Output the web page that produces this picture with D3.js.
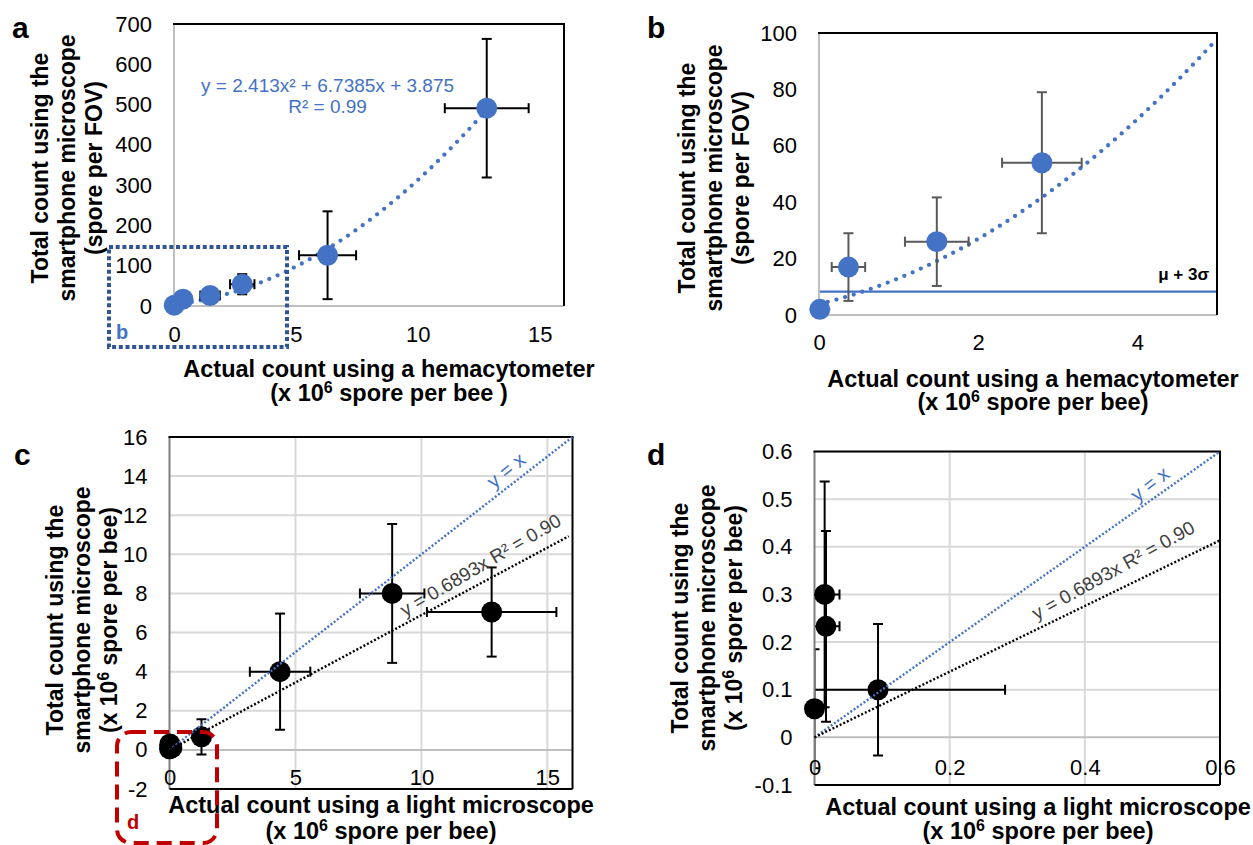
<!DOCTYPE html>
<html>
<head>
<meta charset="utf-8">
<script src="https://cdn.jsdelivr.net/npm/d3@7.9.0/dist/d3.min.js"></script>
<style>
  body { margin: 0; background: #fff; }
  svg { display: block; font-family: "Liberation Sans", Arial, sans-serif; }
</style>
</head>
<body>
<svg id="chart" width="1253" height="845"></svg>
<script>
// ---- data ----
// panels a & b : hemacytometer vs smartphone (spore per FOV)
const hemoX    = [0.01, 0.37, 1.48, 2.8, 6.3, 12.83];
const hemoXErr = [0, 0.21, 0.4, 0.5, 1.17, 1.72];
const fovY     = [2, 17, 26, 54, 126, 491];
const fovYErr  = [0, 12, 15.7, 25, 109, 172];
const quadFit  = [2.413, 6.7385, 3.875];   // y = a x^2 + b x + c
const muPlus3Sigma = 8.3;

// panels c & d : light microscope vs smartphone (x 10^6 spore per bee)
const lightX    = [0.0, 0.015, 0.017, 0.094, 1.27, 4.39, 8.84, 12.79];
const lightXErr = [0, 0.022, 0.02, 0.188, 0.3, 1.2, 1.28, 2.57];
const phoneY    = [0.06, 0.3, 0.233, 0.1, 0.67, 4.0, 8.0, 7.05];
const phoneYErr = [0.125, 0.237, 0.2, 0.138, 0.9, 2.97, 3.55, 2.28];
const linSlope  = 0.6893;

const aXTicks = [0, 5, 10, 15];
const aYTicks = [0, 100, 200, 300, 400, 500, 600, 700];
const bXTicks = [0, 2, 4];
const bYTicks = [0, 20, 40, 60, 80, 100];
const cXTicks = [0, 5, 10, 15];
const cYTicks = [-2, 0, 2, 4, 6, 8, 10, 12, 14, 16];
const dXTicks = [0, 0.2, 0.4, 0.6];
const dYTicks = [-0.1, 0, 0.1, 0.2, 0.3, 0.4, 0.5, 0.6];

const BLUE = '#4472C4';
const svg = d3.select('#chart');
let clipId = 0;

// text with an optional superscript part: "str" or [before, sup, after]
function rich(sel, parts, size) {
  if (typeof parts === 'string') { sel.text(parts); return sel; }
  const s = size * 0.36;
  sel.append('tspan').text(parts[0]);
  sel.append('tspan').attr('dy', -s).attr('font-size', size * 0.68).text(parts[1]);
  sel.append('tspan').attr('dy', s).text(parts[2]);
  return sel;
}

function panel(o) {
  const g = svg.append('g');
  const x = d3.scaleLinear().domain(o.xDomain).range([o.left, o.right]);
  const y = d3.scaleLinear().domain(o.yDomain).range([o.bottom, o.top]);
  const id = 'clip' + (clipId++);
  g.append('clipPath').attr('id', id).append('rect')
    .attr('x', o.left).attr('y', o.top)
    .attr('width', o.right - o.left).attr('height', o.bottom - o.top);
  const inner = g.append('g').attr('clip-path', `url(#${id})`);

  if (o.grid) {
    inner.selectAll('.gx').data(o.xTicks.filter(t => t !== 0)).join('line')
      .attr('x1', d => x(d)).attr('x2', d => x(d))
      .attr('y1', o.top).attr('y2', o.bottom)
      .attr('stroke', '#d9d9d9').attr('stroke-width', 2);
    inner.selectAll('.gy').data(o.yTicks).join('line')
      .attr('x1', o.left).attr('x2', o.right)
      .attr('y1', d => y(d)).attr('y2', d => y(d))
      .attr('stroke', d => d === 0 ? '#bfbfbf' : '#d9d9d9').attr('stroke-width', 2);
  }

  // frame
  const frame = g.append('g');
  frame.append('line').attr('x1', o.left).attr('x2', o.left).attr('y1', o.top).attr('y2', o.bottom)
    .attr('stroke', o.grid ? '#7f7f7f' : '#bfbfbf').attr('stroke-width', 2);
  frame.append('line').attr('x1', o.left).attr('x2', o.right).attr('y1', o.bottom).attr('y2', o.bottom)
    .attr('stroke', o.grid ? '#000' : '#bfbfbf').attr('stroke-width', 2);
  frame.append('line').attr('x1', o.left - 1).attr('x2', o.right + 1).attr('y1', o.top).attr('y2', o.top)
    .attr('stroke', '#000').attr('stroke-width', 2);
  frame.append('line').attr('x1', o.right).attr('x2', o.right).attr('y1', o.top).attr('y2', o.bottom)
    .attr('stroke', '#000').attr('stroke-width', 2);

  // tick labels
  const yAxis = g.append('g').attr('transform', `translate(${o.left},0)`)
    .call(d3.axisLeft(y).tickValues(o.yTicks).tickSize(0).tickPadding(22).tickFormat(d => String(d)));
  const xAxisY = o.grid ? y(0) : o.bottom;
  const xAxis = g.append('g').attr('transform', `translate(0,${xAxisY})`)
    .call(d3.axisBottom(x).tickValues(o.xTicks).tickSize(0).tickPadding(o.xPad).tickFormat(d => String(d)));
  [yAxis, xAxis].forEach(a => {
    a.select('.domain').remove();
    a.selectAll('text').attr('font-size', 22).attr('fill', '#000')
      .attr('font-family', '"Liberation Sans", Arial, sans-serif');
  });

  // axis titles
  o.xTitle.forEach((t, i) => {
    rich(g.append('text').attr('x', o.xTitleX).attr('y', o.xTitleY[i])
      .attr('text-anchor', 'middle').attr('font-size', 23.5).attr('font-weight', 'bold'), t, 23.5);
  });
  o.yTitle.forEach((t, i) => {
    rich(g.append('text')
      .attr('transform', `translate(${o.yTitleX[i]},${o.yTitleY}) rotate(-90)`)
      .attr('text-anchor', 'middle').attr('dy', '0.35em')
      .attr('font-size', 23).attr('font-weight', 'bold'), t, 23);
  });
  g.append('text').attr('x', o.labelPos[0]).attr('y', o.labelPos[1])
    .attr('font-size', 30).attr('font-weight', 'bold').text(o.label);

  // markers sit above the clip so edge points stay whole
  const top = g.append('g');
  return { g, inner, top, x, y };
}

function errorBars(layer, x, y, xs, ys, xe, ye, color) {
  const cap = 5;
  const eb = layer.append('g').attr('stroke', color).attr('stroke-width', 2);
  xs.forEach((xv, i) => {
    if (ye[i] > 0) {
      eb.append('line').attr('x1', x(xv)).attr('x2', x(xv))
        .attr('y1', y(ys[i] - ye[i])).attr('y2', y(ys[i] + ye[i]));
      [ys[i] - ye[i], ys[i] + ye[i]].forEach(v => eb.append('line')
        .attr('x1', x(xv) - cap).attr('x2', x(xv) + cap).attr('y1', y(v)).attr('y2', y(v)));
    }
    if (xe[i] > 0) {
      eb.append('line').attr('y1', y(ys[i])).attr('y2', y(ys[i]))
        .attr('x1', x(xv - xe[i])).attr('x2', x(xv + xe[i]));
      [xv - xe[i], xv + xe[i]].forEach(v => eb.append('line')
        .attr('y1', y(ys[i]) - cap).attr('y2', y(ys[i]) + cap).attr('x1', x(v)).attr('x2', x(v)));
    }
  });
}

function markers(layer, x, y, xs, ys, color) {
  layer.selectAll(null).data(xs).join('circle')
    .attr('cx', d => x(d)).attr('cy', (d, i) => y(ys[i])).attr('r', 10.5).attr('fill', color);
}

const quad = v => quadFit[0] * v * v + quadFit[1] * v + quadFit[2];

// ---------- panel a ----------
const A = panel({
  left: 174, right: 564, top: 24, bottom: 306, xDomain: [0, 16], yDomain: [0, 700],
  xTicks: aXTicks, yTicks: aYTicks, xPad: 20, grid: false,
  xTitle: ['Actual count using a hemacytometer', ['(x 10', '6', ' spore per bee )']],
  xTitleX: 389, xTitleY: [377, 401],
  yTitle: ['Total count using the', 'smartphone microscope', '(spore per FOV)'],
  yTitleX: [40, 67, 94], yTitleY: 168, label: 'a', labelPos: [12, 38]
});
A.inner.append('path')
  .attr('d', d3.line().x(d => A.x(d)).y(d => A.y(quad(d)))(d3.range(0, 12.84, 0.05)))
  .attr('fill', 'none').attr('stroke', BLUE).attr('stroke-width', 4.3)
  .attr('stroke-linecap', 'round').attr('stroke-dasharray', '0 9');
errorBars(A.inner, A.x, A.y, hemoX, fovY, hemoXErr, fovYErr, '#000');
markers(A.top, A.x, A.y, hemoX, fovY, BLUE);
A.g.append('text').attr('x', A.x(6.3)).attr('y', A.y(532)).attr('text-anchor', 'middle')
  .attr('font-size', 19).attr('fill', BLUE).text('y = 2.413x² + 6.7385x + 3.875');
A.g.append('text').attr('x', A.x(6.3)).attr('y', A.y(480)).attr('text-anchor', 'middle')
  .attr('font-size', 19).attr('fill', BLUE).text('R² = 0.99');
// zoom box for panel b
A.g.append('rect').attr('x', 109).attr('y', 247).attr('width', 178).attr('height', 100)
  .attr('fill', 'none').attr('stroke', '#2F5597').attr('stroke-width', 4).attr('stroke-dasharray', '4 2.7');
A.g.append('text').attr('x', 116).attr('y', 339).attr('font-size', 20).attr('font-weight', 'bold')
  .attr('fill', BLUE).text('b');

// ---------- panel b ----------
const B = panel({
  left: 819, right: 1217, top: 33, bottom: 315, xDomain: [0, 5], yDomain: [0, 100],
  xTicks: bXTicks, yTicks: bYTicks, xPad: 19.5, grid: false,
  xTitle: ['Actual count using a hemacytometer', ['(x 10', '6', ' spore per bee)']],
  xTitleX: 1033, xTitleY: [387, 410],
  yTitle: ['Total count using the', 'smartphone microscope', '(spore per FOV)'],
  yTitleX: [687, 714, 741], yTitleY: 178, label: 'b', labelPos: [647, 38]
});
B.inner.append('path')
  .attr('d', d3.line().x(d => B.x(d)).y(d => B.y(quad(d)))(d3.range(0, 5.01, 0.02)))
  .attr('fill', 'none').attr('stroke', BLUE).attr('stroke-width', 4.3)
  .attr('stroke-linecap', 'round').attr('stroke-dasharray', '0 9');
B.inner.append('line').attr('x1', B.x(0)).attr('x2', B.x(5))
  .attr('y1', B.y(muPlus3Sigma)).attr('y2', B.y(muPlus3Sigma))
  .attr('stroke', BLUE).attr('stroke-width', 2.2);
errorBars(B.inner, B.x, B.y, hemoX, fovY, hemoXErr, fovYErr, '#595959');
markers(B.top, B.x, B.y, hemoX, fovY, BLUE);
B.g.append('text').attr('x', B.x(4.9)).attr('y', B.y(12.5)).attr('text-anchor', 'end')
  .attr('font-size', 17).attr('font-weight', 'bold').text('μ + 3σ');

// ---------- panels c & d ----------
function linearPanel(P, xMax, eqAt, eqAngle, idAt, idAngle) {
  errorBars(P.inner, P.x, P.y, lightX, phoneY, lightXErr, phoneYErr, '#000');
  markers(P.top, P.x, P.y, lightX, phoneY, '#000');
  const lines = P.top.append('g');
  lines.append('line').attr('x1', P.x(0)).attr('y1', P.y(0))
    .attr('x2', P.x(xMax[0])).attr('y2', P.y(xMax[0]))
    .attr('stroke', BLUE).attr('stroke-width', 2.4).attr('stroke-dasharray', '2 2');
  lines.append('line').attr('x1', P.x(0)).attr('y1', P.y(0))
    .attr('x2', P.x(xMax[1])).attr('y2', P.y(linSlope * xMax[1]))
    .attr('stroke', '#000').attr('stroke-width', 2.4).attr('stroke-dasharray', '2 2');
  P.g.append('text')
    .attr('transform', `translate(${P.x(eqAt[0])},${P.y(eqAt[1])}) rotate(${-eqAngle})`)
    .attr('font-size', 19).attr('fill', '#404040').text('y = 0.6893x R² = 0.90');
  P.g.append('text')
    .attr('transform', `translate(${P.x(idAt[0])},${P.y(idAt[1])}) rotate(${-idAngle})`)
    .attr('text-anchor', 'middle').attr('dy', '0.35em')
    .attr('font-size', 20).attr('fill', BLUE).text('y = x');
}

const C = panel({
  left: 169.5, right: 572.5, top: 437, bottom: 789, xDomain: [0, 16], yDomain: [-2, 16],
  xTicks: cXTicks, yTicks: cYTicks, xPad: 19.5, grid: true,
  xTitle: ['Actual count using a light microscope', ['(x 10', '6', ' spore per bee)']],
  xTitleX: 381, xTitleY: [813, 839],
  yTitle: ['Total count using the', 'smartphone microscope', ['(x 10', '6', ' spore per bee)']],
  yTitleX: [55, 82, 109], yTitleY: 620, label: 'c', labelPos: [14, 465]
});
linearPanel(C, [16, 15.85], [9.35, 6.8], 30.4, [13.36, 14.3], 39);
C.g.append('rect').attr('x', 117).attr('y', 732).attr('width', 100).attr('height', 111)
  .attr('rx', 14).attr('fill', 'none').attr('stroke', '#C00000').attr('stroke-width', 4)
  .attr('stroke-dasharray', '15 8');
C.g.append('text').attr('x', 127).attr('y', 829).attr('font-size', 20).attr('font-weight', 'bold')
  .attr('fill', '#C00000').text('d');

const D = panel({
  left: 814.5, right: 1220, top: 451.5, bottom: 785, xDomain: [0, 0.6], yDomain: [-0.1, 0.6],
  xTicks: dXTicks, yTicks: dYTicks, xPad: 22, grid: true,
  xTitle: ['Actual count using a light microscope', ['(x 10', '6', ' spore per bee)']],
  xTitleX: 1038, xTitleY: [815, 839],
  yTitle: ['Total count using the', 'smartphone microscope', ['(x 10', '6', ' spore per bee)']],
  yTitleX: [680, 707, 734], yTitleY: 618, label: 'd', labelPos: [647, 465]
});
linearPanel(D, [0.6, 0.6], [0.3285, 0.246], 29, [0.496, 0.532], 38);
</script>
</body>
</html>
